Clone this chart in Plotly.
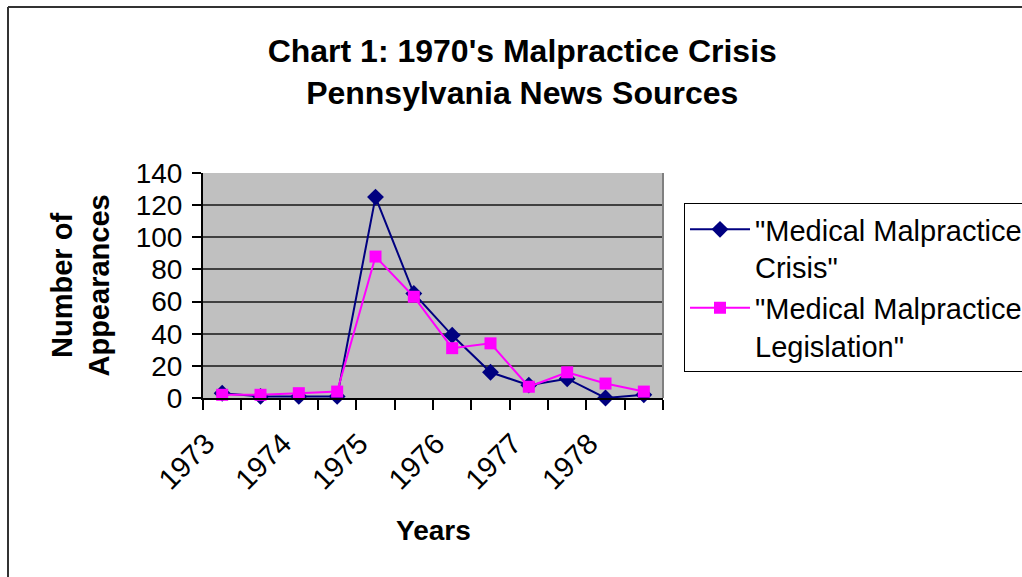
import plotly.graph_objects as go

# Data (half-year periods, labelled by year every other point)
periods = list(range(12))
year_labels = ["1973", "1974", "1975", "1976", "1977", "1978"]
year_label_positions = [0, 2, 4, 6, 8, 10]
crisis = [3, 1, 1, 1, 125, 65, 39, 16, 8, 12, 0, 2]
legislation = [2, 2, 3, 4, 88, 63, 31, 34, 7, 16, 9, 4]
series_names = ['"Medical Malpractice<br>Crisis"', '"Medical Malpractice<br>Legislation"']

FONT = "Liberation Sans, Arial, sans-serif"

fig = go.Figure()
fig.add_trace(go.Scatter(
    x=periods, y=crisis, name=series_names[0], mode="lines+markers",
    line=dict(color="#000080", width=2),
    marker=dict(symbol="diamond", size=13, color="#000080"),
    cliponaxis=False,
))
fig.add_trace(go.Scatter(
    x=periods, y=legislation, name=series_names[1], mode="lines+markers",
    line=dict(color="#FF00FF", width=2),
    marker=dict(symbol="square", size=12, color="#FF00FF"),
    cliponaxis=False,
))

fig.update_layout(
    width=1022, height=577,
    margin=dict(l=203, r=359, t=173, b=179, autoexpand=False),
    paper_bgcolor="white",
    plot_bgcolor="#C0C0C0",
    font=dict(family=FONT, color="black", size=28),
    title=dict(
        text="<b>Chart 1: 1970's Malpractice Crisis<br>Pennsylvania News Sources</b>",
        x=0.511, xanchor="center", xref="container",
        y=1 - 62 / 577, yanchor="middle", yref="container",
        font=dict(size=32, family=FONT, color="black"),
    ),
    showlegend=True,
    legend=dict(
        x=(684 - 203) / 460, xanchor="left",
        y=(398 - 203) / 225, yanchor="top",
        bgcolor="white", bordercolor="black", borderwidth=1,
        font=dict(size=29, family=FONT, color="black"),
        valign="top",
        itemwidth=60,
        tracegroupgap=0,
    ),
)

fig.update_xaxes(
    range=[-0.5, 11.5],
    tickmode="array", tickvals=year_label_positions, ticktext=year_labels,
    tickangle=-45, ticks="", showgrid=False, zeroline=False,
    showline=True, linecolor="black", linewidth=2,
    tickfont=dict(size=29, family=FONT, color="black"),
    minor=dict(tickmode="array", tickvals=[i - 0.5 for i in range(13)],
               ticks="outside", ticklen=10, tickcolor="black", tickwidth=1.5,
               showgrid=False),
    ticklabelstandoff=15,
    ticklabelshift=-16,
)
fig.update_yaxes(
    range=[0, 140], tickmode="linear", tick0=0, dtick=20,
    ticks="outside", ticklen=9, tickcolor="black", tickwidth=1.5,
    showgrid=True, gridcolor="#404040", gridwidth=1.5,
    zeroline=False, showline=True, linecolor="black", linewidth=2,
    tickfont=dict(size=28, family=FONT, color="black"),
    ticklabelstandoff=4,
)

# right border of the plot area
fig.add_shape(type="line", xref="paper", yref="paper", x0=1, x1=1, y0=0, y1=1,
              line=dict(color="#808080", width=2))
# outer chart border (left and top edges visible)
fig.add_shape(type="line", xref="paper", yref="paper",
              x0=(8 - 203) / 460, x1=(8 - 203) / 460, y0=(398 - 7) / 225, y1=-2,
              line=dict(color="#333333", width=2))
fig.add_shape(type="line", xref="paper", yref="paper",
              x0=(8 - 203) / 460, x1=3, y0=(398 - 7) / 225, y1=(398 - 7) / 225,
              line=dict(color="#333333", width=2))

# axis titles
fig.add_annotation(text="<b>Number of<br>Appearances</b>", xref="paper", yref="paper",
                   x=(80 - 203) / 460, y=0.5, xanchor="center", yanchor="middle",
                   textangle=-90, showarrow=False,
                   font=dict(size=29, family=FONT, color="black"))
fig.add_annotation(text="<b>Years</b>", xref="paper", yref="paper",
                   x=(433 - 203) / 460, y=(398 - 530) / 225, xanchor="center", yanchor="middle",
                   showarrow=False, font=dict(size=28, family=FONT, color="black"))

fig.write_html("out.html")
